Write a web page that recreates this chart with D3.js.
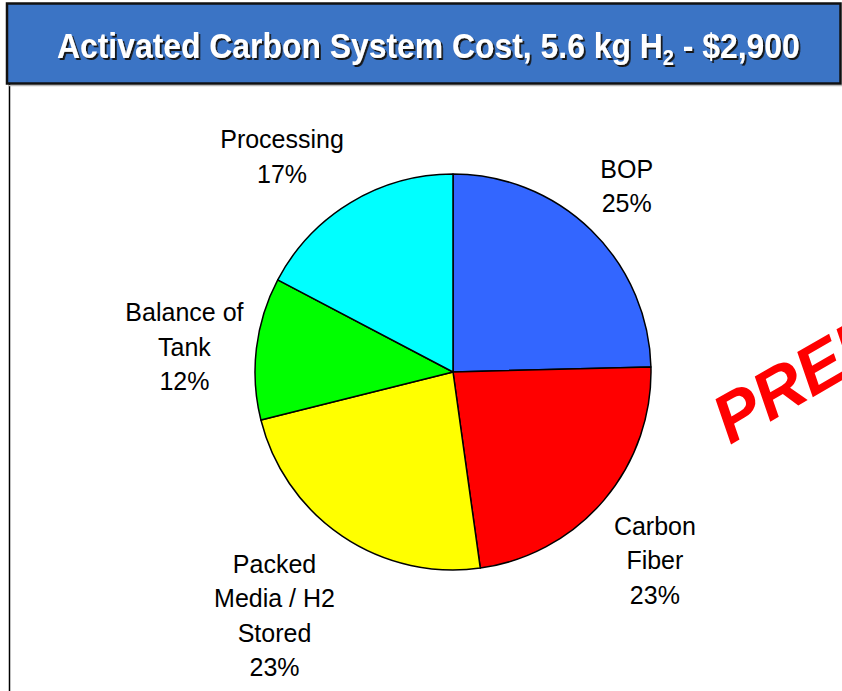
<!DOCTYPE html>
<html>
<head>
<meta charset="utf-8">
<script src="https://cdn.jsdelivr.net/npm/d3@7"></script>
<style>
  html, body { margin: 0; padding: 0; background: #fff; }
  svg { display: block; }
</style>
</head>
<body>
<svg id="chart" width="842" height="691"></svg>
<script>
// ---- data ----
const categories = ["BOP", "Carbon Fiber", "Packed Media / H2 Stored", "Balance of Tank", "Processing"];
const labelLines = [["BOP"], ["Carbon", "Fiber"], ["Packed", "Media / H2", "Stored"], ["Balance of", "Tank"], ["Processing"]];
const shares = [24.6, 23.2, 23.3, 11.6, 17.3];
const colors = ["#3366FF", "#FF0000", "#FFFF00", "#00FF00", "#00FFFF"];
const titleMain = "Activated Carbon System Cost, 5.6 kg H";
const titleSub = "2";
const titleTail = " - $2,900";
const watermark = "PRELIMINARY";

const svg = d3.select("#chart");
const W = 842, H = 691;

const defs = svg.append("defs");
const f = defs.append("filter").attr("id", "tshadow").attr("x", "-5%").attr("y", "-20%")
  .attr("width", "110%").attr("height", "150%");
f.append("feDropShadow").attr("dx", 2).attr("dy", 2).attr("stdDeviation", 0.4)
  .attr("flood-color", "#141414").attr("flood-opacity", 1);

// left frame line
svg.append("line").attr("x1", 9.5).attr("x2", 9.5).attr("y1", 84).attr("y2", H)
  .attr("stroke", "#000").attr("stroke-width", 1.5);

// title bar
svg.append("line").attr("x1", 8).attr("x2", W).attr("y1", 85.5).attr("y2", 85.5)
  .attr("stroke", "#bbb").attr("stroke-width", 1.5);
svg.append("rect").attr("x", 7).attr("y", 3.5).attr("width", 833.5).attr("height", 80)
  .attr("fill", "#3B74C5").attr("stroke", "#111").attr("stroke-width", 2.5);

const tg = svg.append("g");
const main = tg.append("text").attr("x", 0).attr("y", 0)
  .attr("font-family", "'Liberation Sans', Arial, sans-serif")
  .attr("font-weight", "bold").attr("font-size", 35).attr("fill", "#ffffff")
  .attr("filter", "url(#tshadow)");
main.append("tspan").text(titleMain);
main.append("tspan").attr("font-size", 22).attr("dy", 7).text(titleSub);
main.append("tspan").attr("dy", -7).text(titleTail);
const natW = main.node().getComputedTextLength();
const k = 743 / natW;
tg.attr("transform", `translate(57,57.7) scale(${k},1)`);

// watermark
svg.append("text")
  .attr("transform", "translate(730,445) rotate(-30)")
  .attr("font-family", "'Liberation Sans', Arial, sans-serif")
  .attr("font-weight", "bold").attr("font-style", "italic")
  .attr("font-size", 68).attr("fill", "#FF0000")
  .text(watermark);

// pie
const cx = 453, cy = 372, r = 198;
const pie = d3.pie().sort(null).value(d => d.v);
const data = categories.map((c, i) => ({ c, v: shares[i], lines: labelLines[i], color: colors[i] }));
const arcs = pie(data);
const arc = d3.arc().innerRadius(0).outerRadius(r);
const total = d3.sum(shares);

const pg = svg.append("g").attr("transform", `translate(${cx},${cy})`);
pg.selectAll("path").data(arcs).enter().append("path")
  .attr("d", arc).attr("fill", d => d.data.color)
  .attr("stroke", "#000").attr("stroke-width", 1.5).attr("stroke-linejoin", "round");

// labels
const fs = 25, lh = 34.5, gap = 13;
const clamp = v => Math.max(-1, Math.min(1, v));
arcs.forEach(a => {
  const lines = a.data.lines.concat([Math.round(a.data.v / total * 100) + "%"]);
  const t = pg.append("text")
    .attr("font-family", "'Liberation Sans', Arial, sans-serif")
    .attr("font-size", fs).attr("fill", "#000").attr("text-anchor", "middle");
  lines.forEach((l, i) => t.append("tspan").attr("x", 0).attr("y", i * lh).text(l));
  const bb = t.node().getBBox();
  const w = bb.width, h = lines.length * lh;
  const mid = (a.startAngle + a.endAngle) / 2;
  const s = Math.sin(mid), c = Math.cos(mid);
  const px = s * (r + gap), py = -c * (r + gap);
  const fx = clamp(2 * s);
  const fy = Math.sign(c) * clamp(Math.max(0, Math.abs(c) - 0.2) * 3);
  const bx = px + fx * w / 2;
  const by = py - fy * h / 2;
  const firstBaseline = by - ((lines.length - 1) * lh) / 2 + fs * 0.35;
  t.selectAll("tspan").attr("x", bx).attr("y", (d, i) => firstBaseline + i * lh);
});
</script>
</body>
</html>
